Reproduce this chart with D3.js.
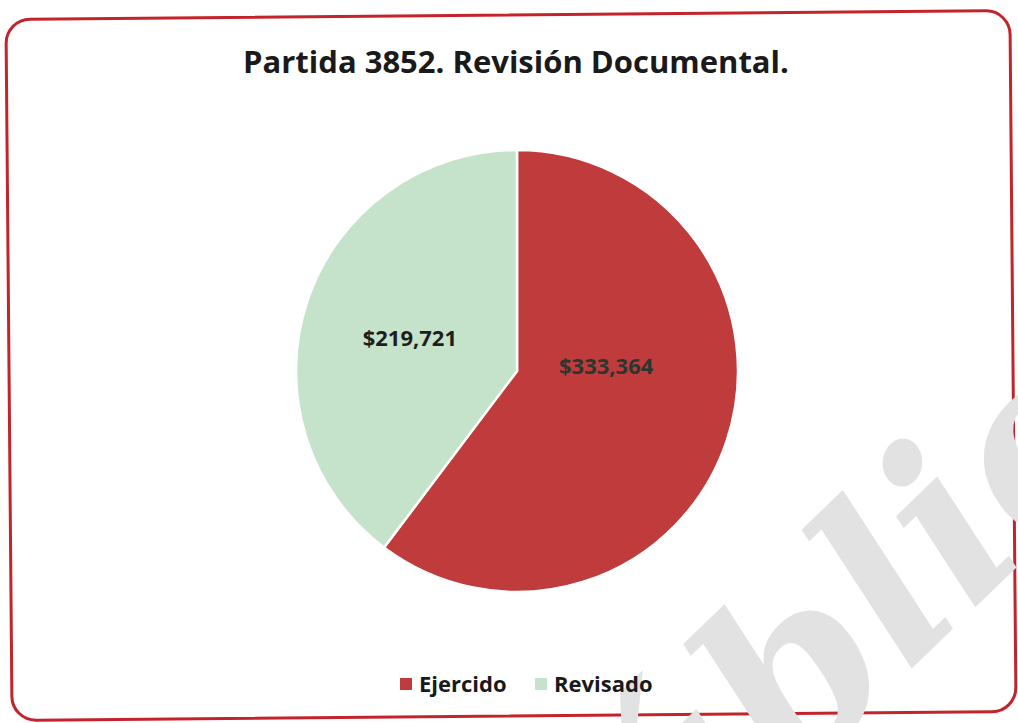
<!DOCTYPE html>
<html>
<head>
<meta charset="utf-8">
<script src="https://cdn.jsdelivr.net/npm/d3@7"></script>
<style>
  html, body { margin: 0; padding: 0; background: #fff; }
  #container { width: 1018px; height: 723px; }
</style>
</head>
<body>
<div id="container"></div>
<script>
const width = 1018, height = 723;

// Data
const categories = ["Ejercido", "Revisado"];
const values = [333364, 219721];
const colors = ["#bf3b3c", "#c5e3ca"];
const title = "Partida 3852. Revisión Documental.";
const watermark = "Pública";

const fmt = (v) => "$" + d3.format(",")(v);

const svg = d3.select("#container").append("svg")
  .attr("width", width).attr("height", height);

svg.append("rect").attr("width", width).attr("height", height).attr("fill", "#fff");

// Frame (scanned page is slightly skewed)
svg.append("rect")
  .attr("x", 9).attr("y", 15)
  .attr("width", 1004).attr("height", 701)
  .attr("rx", 24).attr("ry", 24)
  .attr("fill", "#fff")
  .attr("stroke", "#c3242c")
  .attr("stroke-width", 3)
  .attr("transform", "rotate(-0.5 511 366)");

// Watermark (drawn under chart marks)
const wm = svg.append("text")
  .attr("fill", "#e2e2e2")
  .style("font-family", "'DejaVu Serif', serif")
  .style("font-size", "232px")
  .style("font-weight", "700")
  .style("font-style", "italic")
  .text(watermark);
const off = wm.node().getSubStringLength(0, 3);
wm.attr("x", -off).attr("y", 0)
  .attr("transform", "translate(906,674) rotate(-44)");

// Title
svg.append("text")
  .attr("x", 516).attr("y", 73)
  .attr("text-anchor", "middle")
  .attr("fill", "#1a1a1a")
  .style("font-family", "'Open Sans', sans-serif")
  .style("font-size", "31px")
  .style("font-weight", "700")
  .text(title);

// Pie
const cx = 517, cy = 371, r = 221;
const pie = d3.pie().sort(null).value((d) => d.value);
const data = pie(categories.map((c, i) => ({ name: c, value: values[i], color: colors[i] })));
const arc = d3.arc().innerRadius(0).outerRadius(r);
const labelArc = d3.arc().innerRadius(0).outerRadius(2 * 113);
const labelShift = [[-18, -42], [0, 2]];

const g = svg.append("g").attr("transform", `translate(${cx},${cy})`);
g.selectAll("path").data(data).join("path")
  .attr("d", arc)
  .attr("fill", (d) => d.data.color)
  .attr("stroke", "#fff")
  .attr("stroke-width", 2.5);

g.selectAll("text.lbl").data(data).join("text")
  .attr("class", "lbl")
  .attr("x", (d, i) => labelArc.centroid(d)[0] + labelShift[i][0])
  .attr("y", (d, i) => labelArc.centroid(d)[1] + labelShift[i][1])
  .attr("text-anchor", "middle")
  .attr("dominant-baseline", "central")
  .attr("fill", (d, i) => (i === 0 ? "#2b3630" : "#1e1e1e"))
  .style("font-family", "'Open Sans', sans-serif")
  .style("font-size", "22px")
  .style("font-weight", "700")
  .text((d) => fmt(d.data.value));

// Legend
const legend = svg.append("g").attr("transform", "translate(400,692)");
const item = legend.selectAll("g").data(data).join("g")
  .attr("transform", (d, i) => `translate(${i * 135},0)`);
item.append("rect")
  .attr("x", 0).attr("y", -14)
  .attr("width", 12).attr("height", 12)
  .attr("fill", (d) => d.data.color);
item.append("text")
  .attr("x", 19).attr("y", 0)
  .attr("fill", "#1a1a1a")
  .style("font-family", "'Open Sans', sans-serif")
  .style("font-size", "22px")
  .style("font-weight", "700")
  .text((d) => d.data.name);
</script>
</body>
</html>
